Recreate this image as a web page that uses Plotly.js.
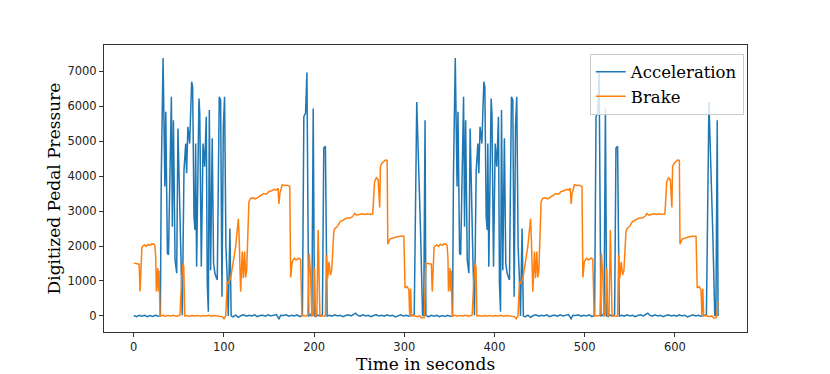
<!DOCTYPE html>
<html>
<head>
<meta charset="utf-8">
<script src="https://cdn.plot.ly/plotly-3.0.1.min.js"></script>
<style>
  html, body { margin: 0; padding: 0; background: #fff; }
  #chart { width: 830px; height: 374px; }
</style>
</head>
<body>
<div id="chart"></div>
<script>
var accelTime = [0,3,6,9,12,15,18,21,24,27,29.5,30.5,32.5,34.5,35.5,37.3,38.5,41.7,42.8,44,45.8,47.6,49,52,53.8,55.7,57.6,58.6,60,62,64.2,65.3,66.8,67.9,68.6,69.7,72.3,73.2,74.9,76.8,78.6,80.4,81.5,82.7,83.8,85.2,87,88.5,90,91.5,92.6,94.8,96.3,97.8,99.3,100.7,102.2,103.7,104.8,106.6,108,
  110,113,116,119,122,125,128,131,134,137,140,143,146,149,152,155,158,161,163,166,169,172,175,178,181,184,187,
  188.6,190.5,192,194,196,197.5,199,200.4,202,204,206,208,209.2,210.7,212.5,214.4,
  217,220,223,226,229,232,235,238,241,244,246,248,251,254,257,260,263,266,269,272,275,278,281,284,287,290,293,296,299,302,305,308,311,
  313.8,318,320.3,321.5,323,323.9,
  324,327,330,333,336,339,342,345,348,351,353.5,354.5,356.5,358.5,359.5,361.3,362.5,365.7,366.8,368,369.8,371.6,373,376,377.8,379.7,381.6,382.6,384,386,388.2,389.3,390.8,391.9,392.6,393.7,396.3,397.2,398.9,400.8,402.6,404.4,405.5,406.7,407.8,409.2,411,412.5,414,415.5,416.6,418.8,420.3,421.8,423.3,424.7,426.2,427.7,428.8,430.6,432,
  434,437,440,443,446,449,452,455,458,461,464,467,470,473,476,479,482,485,487,490,493,496,499,502,505,508,511,
  512.6,514.5,516,518,520,521.5,523,524.4,526,528,530,532,533.2,534.7,536.5,538.4,
  541,544,547,550,553,556,559,562,565,568,570,572,575,578,581,584,587,590,593,596,599,602,605,608,611,614,617,620,623,626,629,632,635,
  637.8,642,644.3,645.5,647,647.9];
var accel = [10,-20,20,-10,15,-25,10,-15,20,-10,0,4000,7380,3700,5840,1790,1750,6270,2550,5600,1600,1220,5360,1700,20,4170,4930,4080,5410,4930,6700,6550,2840,2460,4930,1410,6220,5790,1410,4930,4270,5700,930,120,5890,1310,5080,1500,1220,1100,1030,6270,6170,550,5410,6270,1980,1030,0,2500,0,
  -30,20,-40,10,30,-10,20,0,30,-20,10,20,-10,30,0,20,40,-80,20,10,30,-10,20,0,30,-20,20,
  5700,5800,6960,0,20,100,5930,0,-20,30,0,10,50,4800,4850,0,
  20,-10,30,0,20,-20,10,30,0,60,80,20,-10,30,0,20,-20,10,30,0,20,-10,30,0,20,-30,10,30,0,20,-10,20,20,
  6120,2430,0,30,5600,0,
  10,-20,20,-10,15,-25,10,-15,20,-10,0,4000,7380,3700,5840,1790,1750,6270,2550,5600,1600,1220,5360,1700,20,4170,4930,4080,5410,4930,6700,6550,2840,2460,4930,1410,6220,5790,1410,4930,4270,5700,930,120,5890,1310,5080,1500,1220,1100,1030,6270,6170,550,5410,6270,1980,1030,0,2500,0,
  -30,20,-40,10,30,-10,20,0,30,-20,10,20,-10,30,0,20,40,-80,20,10,30,-10,20,0,30,-20,20,
  5700,5800,6960,0,20,100,5930,0,-20,30,0,10,50,4800,4850,0,
  20,-10,30,0,20,-20,10,30,0,60,80,20,-10,30,0,20,-20,10,30,0,20,-10,30,0,20,-30,10,30,0,20,-10,20,20,
  6120,2430,0,30,5600,0];

var brakeTime = [0,3,6,7,9,10,12,14,16,18,20,22.5,23.5,24.4,25,26.6,27.3,28,29.2,32,35,38,41,44,47,50,51.3,53,54.6,55.5,
  56.5,59,62,65,68,71,74,77,80,83,86,89,92,95,98,100,102,103.7,105,107.4,
  109,111,113,116,117,118.5,120.3,121.5,122.9,124,125.2,126.5,127.7,129.5,132,135,138,141,144,147,
  150,153,156,158,160,161,162,164.6,167,170,173,174,175.7,178,180,183,185,186.5,188,191,
  193,194.5,196,197.5,199,200.5,201.5,203,204.5,206.4,209,211,212.5,213.7,215,216.5,218,219.5,221.8,223,
  225.5,229,232,236.5,240,243,245,247,250,253,256,259,262,265,267,269,271,272.7,273.5,275,
  279,281,281.7,284,290,295,299.5,300.8,303,305,306,307,308,311,314,317,319,322,
  324,327,330,331,333,334,336,338,340,342,344,346.5,347.5,348.4,349,350.6,351.3,352,353.2,356,359,362,365,368,371,374,375.3,377,378.6,379.5,
  380.5,383,386,389,392,395,398,401,404,407,410,413,416,419,422,424,426,427.7,429,431.4,
  433,435,437,440,441,442.5,444.3,445.5,446.9,448,449.2,450.5,451.7,453.5,456,459,462,465,468,471,
  474,477,480,482,484,485,486,488.6,491,494,497,498,499.7,502,504,507,509,510.5,512,515,
  517,518.5,520,521.5,523,524.5,525.5,527,528.5,530.4,533,535,536.5,537.7,539,540.5,542,543.5,545.8,547,
  549.5,553,556,560.5,564,567,569,571,574,577,580,583,586,589,591,593,595,596.7,597.5,599,
  603,605,605.7,608,614,619,623.5,624.8,627,629,630,631,632,635,638,641,643,646,648];
var brake = [1510,1500,1480,700,1950,2000,2030,1990,2050,2020,2060,2050,2000,1650,700,1370,700,1300,0,20,-10,15,0,20,-10,10,30,1000,1500,1400,
  0,10,-10,10,0,15,-10,10,0,20,-10,10,0,10,-20,-80,0,980,950,1075,
  1300,1650,2000,2780,2140,690,1840,1080,1840,1100,1300,2700,3270,3360,3380,3350,3400,3450,3500,3480,
  3560,3580,3620,3600,3650,3200,3500,3750,3730,3740,3700,1100,1550,1650,1600,1650,1620,0,10,0,
  20,1790,1200,0,20,1360,0,10,2460,0,0,10,0,1750,1080,1550,1170,1300,2410,2500,
  2550,2700,2740,2800,2800,2850,2930,2880,2900,2920,2900,2920,2900,2920,3840,3950,3900,3100,4270,4360,
  4460,4450,2050,2200,2250,2280,2280,800,840,750,0,780,0,10,-20,0,-60,-50,
  1510,1500,1480,700,1950,2000,2030,1990,2050,2020,2060,2050,2000,1650,700,1370,700,1300,0,20,-10,15,0,20,-10,10,30,1000,1500,1400,
  0,10,-10,10,0,15,-10,10,0,20,-10,10,0,10,-20,-80,0,980,950,1075,
  1300,1650,2000,2780,2140,690,1840,1080,1840,1100,1300,2700,3270,3360,3380,3350,3400,3450,3500,3480,
  3560,3580,3620,3600,3650,3200,3500,3750,3730,3740,3700,1100,1550,1650,1600,1650,1620,0,10,0,
  20,1790,1200,0,20,1360,0,10,2460,0,0,10,0,1750,1080,1550,1170,1300,2410,2500,
  2550,2700,2740,2800,2800,2850,2930,2880,2900,2920,2900,2920,2900,2920,3840,3950,3900,3100,4270,4360,
  4460,4450,2050,2200,2250,2280,2280,800,840,750,0,780,0,10,-20,0,-60,-50,400];

var xTicks = [0, 100, 200, 300, 400, 500, 600];
var yTicks = [0, 1000, 2000, 3000, 4000, 5000, 6000, 7000];

var serif = 'DejaVu Serif, serif';
var sans = 'DejaVu Sans, sans-serif';

var traces = [
    {
        x: accelTime, y: accel, mode: 'lines', name: 'Acceleration',
        line: { color: '#1f77b4', width: 1.5 }
    },
    {
        x: brakeTime, y: brake, mode: 'lines', name: 'Brake',
        line: { color: '#ff7f0e', width: 1.5 }
    }
];

var axisStyle = {
    showgrid: false, zeroline: false,
    showline: true, mirror: true, linecolor: '#333', linewidth: 1,
    ticks: 'outside', ticklen: 4, tickcolor: '#333', tickwidth: 1,
    tickfont: { family: sans, size: 11.5, color: '#222' }
};

var layout = {
    width: 830, height: 374,
    margin: { l: 104, r: 83, t: 45, b: 42 },
    paper_bgcolor: '#fff', plot_bgcolor: '#fff',
    showlegend: true,
    legend: {
        x: 0.995, y: 0.97, xanchor: 'right', yanchor: 'top',
        bgcolor: 'rgba(255,255,255,0.8)', bordercolor: '#ccc', borderwidth: 1,
        font: { family: serif, size: 16.5, color: '#000' },
        tracegroupgap: 0
    },
    xaxis: Object.assign({}, axisStyle, {
        range: [-33, 680], tickvals: xTicks,
        title: { text: 'Time in seconds', font: { family: serif, size: 17, color: '#000' }, standoff: 4 }
    }),
    yaxis: Object.assign({}, axisStyle, {
        range: [-460, 7750], tickvals: yTicks,
        title: { text: 'Digitized Pedal Pressure', font: { family: serif, size: 17, color: '#000' }, standoff: 2 }
    })
};

Plotly.newPlot('chart', traces, layout, { displayModeBar: false, staticPlot: true });
</script>
</body>
</html>
